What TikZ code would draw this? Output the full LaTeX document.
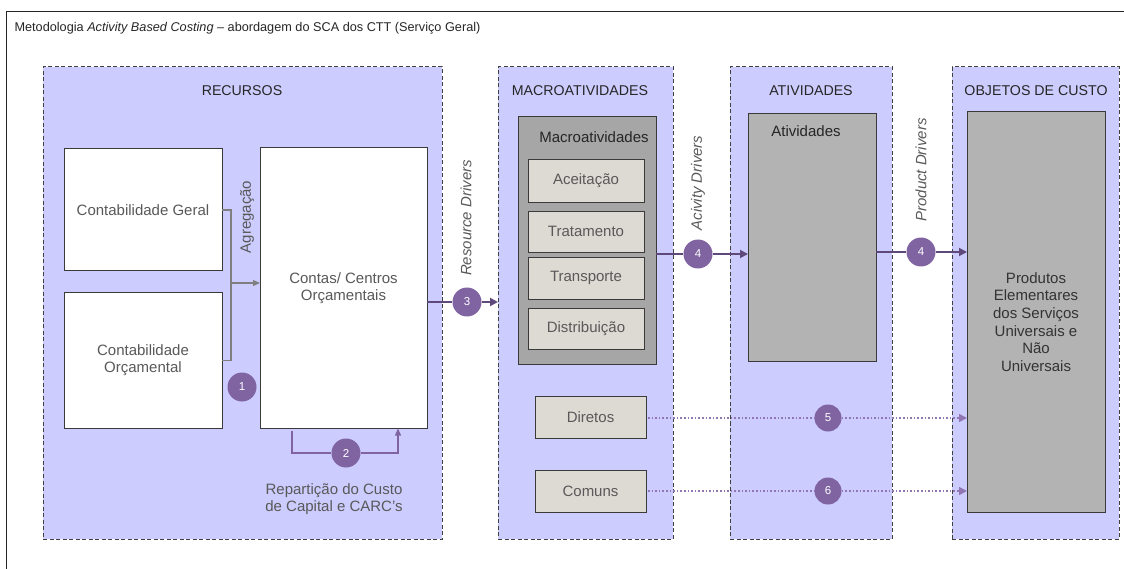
\documentclass[tikz,border=0pt]{standalone}
\usepackage{fontspec}
\setmainfont{Liberation Sans}
\usetikzlibrary{arrows.meta}

\definecolor{panelc}{HTML}{CCCCFF}
\definecolor{dashc}{HTML}{404040}
\definecolor{boxline}{HTML}{3A3A3A}
\definecolor{beige}{HTML}{DDD9D3}
\definecolor{darkgrey}{HTML}{A6A6A6}
\definecolor{lightgrey}{HTML}{B3B3B3}
\definecolor{txtgrey}{HTML}{595959}
\definecolor{circc}{HTML}{8064A2}
\definecolor{drvline}{HTML}{5F497A}
\definecolor{dotc}{HTML}{9077B4}
\definecolor{aggc}{HTML}{7F7F7F}

\tikzset{
  panel/.style={draw=dashc, fill=panelc, dash pattern=on 4pt off 2.5pt, line width=1pt,
                inner sep=0pt, outer sep=0pt},
  paneltitle/.style={text=black!85, font=\fontsize{14.2}{16}\selectfont},
  whitebox/.style={draw=boxline, fill=white, line width=1pt, inner sep=0pt, outer sep=0pt,
                   text=txtgrey, align=center},
  subbox/.style={draw=boxline, fill=beige, line width=0.9pt, inner sep=0pt, outer sep=0pt,
                 text=txtgrey, minimum width=116pt},
  greybox/.style={draw=boxline, line width=1pt, inner sep=0pt, outer sep=0pt},
  badge/.style={circle, fill=circc, text=white, inner sep=0pt, minimum size=29pt,
                font=\fontsize{11.5}{13}\selectfont},
  smallbadge/.style={badge, minimum size=27pt},
  drvarrow/.style={draw=drvline, line width=1.8pt, -{Triangle[length=8pt,width=8pt]}},
  drvplain/.style={draw=drvline, line width=1.8pt},
  dotarrow/.style={draw=dotc, line width=1.6pt, dotted, -{Triangle[length=8pt,width=8pt]}},
  dotplain/.style={draw=dotc, line width=1.6pt, dotted},
  aggline/.style={draw=aggc, line width=1.1pt},
  reparline/.style={draw=circc, line width=1.1pt},
  sidelabel/.style={rotate=90, text=txtgrey, font=\fontsize{15}{17}\selectfont\itshape},
}

\begin{document}
\begin{tikzpicture}[x=1pt, y=-1pt, font=\fontsize{15}{17}\selectfont]
\useasboundingbox (0,0) rectangle (1124,569);

% outer frame and heading
\draw[line width=1pt, black!85] (6,12) rectangle (1140,590);
\node[anchor=west, text=black!85, font=\fontsize{12.7}{15}\selectfont] (heading) at (11,28)
  {Metodologia \textit{Activity Based Costing} -- abordagem do SCA dos CTT (Serviço Geral)};

% four dashed panels
\node[panel, minimum width=399pt, minimum height=472pt] (rec) at (242.5,303) {};
\node[panel, minimum width=175pt, minimum height=472pt] (mac) at (585.5,303) {};
\node[panel, minimum width=162pt, minimum height=472pt] (atv) at (811,303) {};
\node[panel, minimum width=167pt, minimum height=472pt] (obj) at (1035.5,303) {};

\node[paneltitle] (recT) at (242,91) {RECURSOS};
\node[paneltitle] (macT) at (580,91) {MACROATIVIDADES};
\node[paneltitle] (atvT) at (811,91) {ATIVIDADES};
\node[paneltitle] (objT) at (1036,91) {OBJETOS DE CUSTO};

% resources
\node[whitebox, minimum width=158pt, minimum height=122pt] (cg) at (143,210) {Contabilidade Geral};
\node[whitebox, minimum width=158pt, minimum height=135pt] (co) at (143,360.5)
  {Contabilidade\\[0pt]Orçamental};
\node[whitebox, minimum width=167pt, minimum height=280pt] (cc) at (343.5,288)
  {Contas/ Centros\\[0pt]Orçamentais};

% aggregation
\coordinate (aj) at (231,283);
\draw[aggline] (cg.east) -| (aj) |- (co.east);
\draw[aggline, -{Triangle[length=7pt,width=6pt]}] (aj) -- (aj -| cc.west);
\node[rotate=90, text=txtgrey] (agg) at (247,217) {Agregação};
\node[badge] (n1) at (242,387) {1};

% allocation of capital cost
\node[badge] (n2) at (346,453) {2};
\coordinate (c2a) at (292,431);
\coordinate (c2b) at (398,428.5);
\draw[reparline] (c2a) |- (n2.west);
\draw[reparline, -{Triangle[length=7pt,width=6pt]}] (n2.east) -| (c2b);
\node[text=txtgrey, align=center] (rep) at (334,499)
  {Repartição do Custo\\[0pt]de Capital e CARC's};

% resource drivers
\node[badge] (n3) at (467,302) {3};
\draw[drvplain] (cc.east |- n3) -- (n3.west);
\draw[drvarrow] (n3.east) -- (mac.west |- n3);
\node[sidelabel] (rd) at (466,218) {Resource Drivers};

% macro-activities
\node[greybox, fill=darkgrey, minimum width=138pt, minimum height=247pt] (mb) at (587,240.5) {};
\node[text=black!85] (mbT) at (594,137) {Macroatividades};
\node[subbox, minimum height=43pt] (ac) at (586,180.5) {Aceitação};
\node[subbox, minimum height=41pt] (tr) at (586,231.5) {Tratamento};
\node[subbox, minimum height=42pt] (tp) at (586,278) {Transporte};
\node[subbox, minimum height=41pt] (di) at (586,328.5) {Distribuição};
\node[subbox, minimum width=111pt, minimum height=42pt] (dir) at (590.5,417) {Diretos};
\node[subbox, minimum width=111pt, minimum height=42pt] (com) at (590.5,491) {Comuns};

% activities
\node[greybox, fill=lightgrey, minimum width=128pt, minimum height=247pt] (ab) at (812,237.5) {};
\node[text=black!85] (abT) at (806,131) {Atividades};

% cost objects
\node[greybox, fill=lightgrey, minimum width=138pt, minimum height=400pt] (ob) at (1036,312) {};
\node[text=black!80, align=center, font=\fontsize{15}{17.6}\selectfont] (obL) at (1036,322)
  {Produtos\\Elementares\\dos Serviços\\Universais e\\Não\\Universais};

% activity drivers
\node[badge] (n4a) at (698,254) {4};
\draw[drvplain] (mb.east |- n4a) -- (n4a.west);
\draw[drvarrow] (n4a.east) -- (ab.west |- n4a);
\node[sidelabel] (ad) at (698,183) {Acivity Drivers};

% product drivers
\node[badge] (n4b) at (921,252) {4};
\draw[drvplain] (ab.east |- n4b) -- (n4b.west);
\draw[drvarrow] (n4b.east) -- (ob.west |- n4b);
\node[sidelabel] (pd) at (921,170) {Product Drivers};

% direct and common costs
\node[smallbadge] (n5) at (828,418) {5};
\node[smallbadge] (n6) at (828,491) {6};
\draw[dotplain] ([xshift=2pt]dir.east |- n5) -- (n5.west);
\draw[dotarrow] (n5.east) -- (ob.west |- n5);
\draw[dotplain] ([xshift=2pt]com.east |- n6) -- (n6.west);
\draw[dotarrow] (n6.east) -- (ob.west |- n6);
\end{tikzpicture}
\end{document}
